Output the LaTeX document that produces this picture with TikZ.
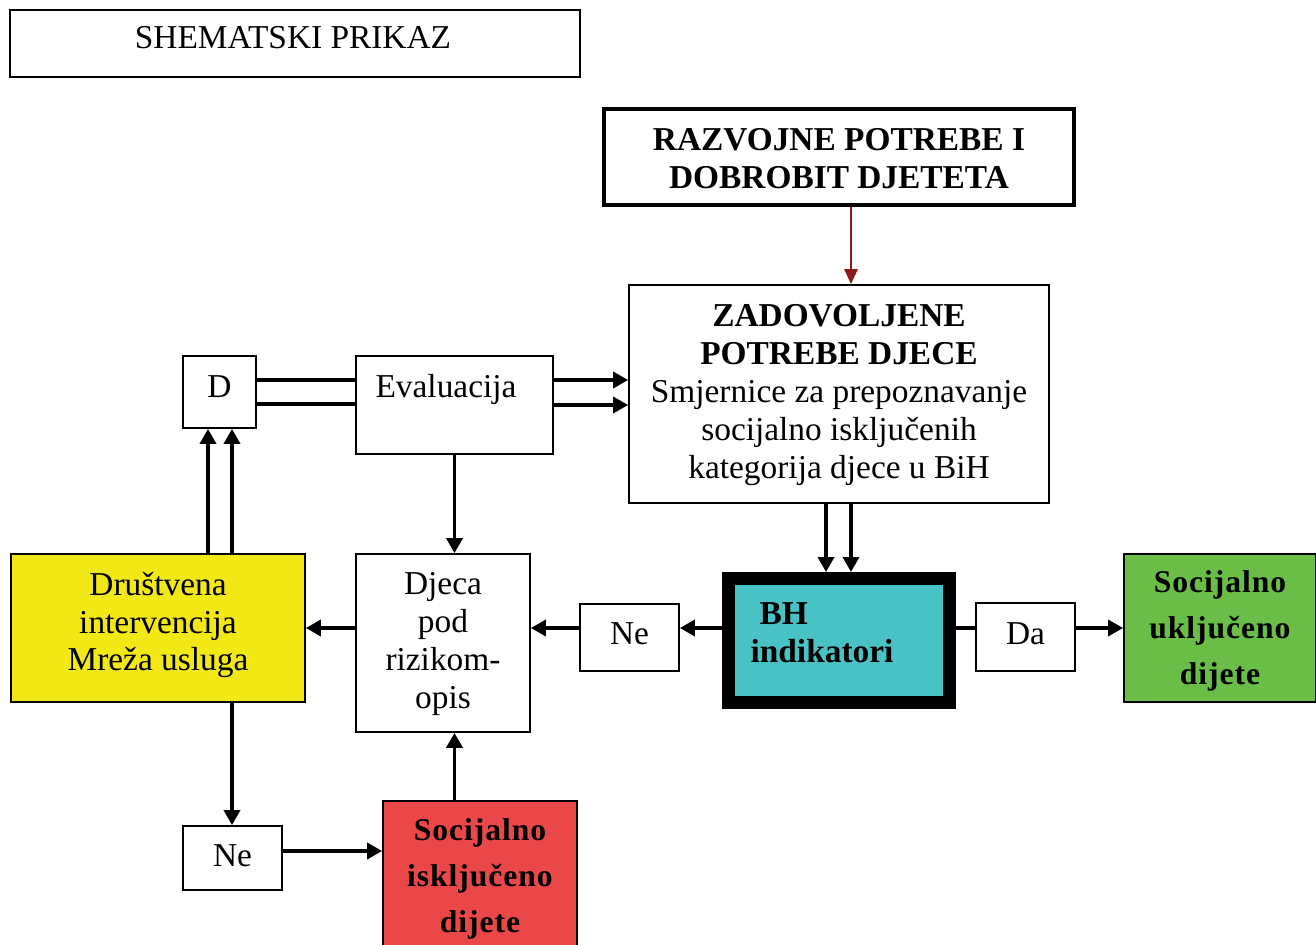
\documentclass[tikz,border=0pt]{standalone}
\usepackage{fontspec}
\setmainfont{Liberation Serif}
\usetikzlibrary{arrows.meta}
\definecolor{zuta}{RGB}{242,232,22}
\definecolor{tirkiz}{RGB}{72,194,196}
\definecolor{zelena}{RGB}{106,189,70}
\definecolor{crvena}{RGB}{234,72,72}
\definecolor{tamnocrvena}{RGB}{140,24,24}
\tikzset{
  box/.style={draw, line width=1pt, inner sep=0pt},
  txt/.style={font=\fontsize{19}{21.6}\selectfont, align=center, inner sep=0pt},
  bold/.style={font=\fontsize{19}{21.6}\selectfont\bfseries, align=center, inner sep=0pt},
  boldwide/.style={font=\fontsize{18}{26}\selectfont\bfseries\addfontfeatures{LetterSpace=3}, align=center, inner sep=0pt},
  arr/.style={line width=2pt, -{Triangle[length=0.3cm, width=0.32cm]}},
  link/.style={line width=2pt}
}
\begin{document}
\begin{tikzpicture}[x=0.02cm, y=-0.02cm]
      \useasboundingbox (0,0) rectangle (1316,944);
      % boxes
      \node[box, minimum width=11.4cm, minimum height=1.34cm] (title) at (295,43.5) {};
      \node[box, line width=2.3pt, minimum width=9.4cm, minimum height=1.92cm] (razvoj) at (839,157) {};
      \node[box, minimum width=8.4cm, minimum height=4.36cm] (zad) at (839,394) {};
      \node[box, minimum width=1.46cm, minimum height=1.44cm] (d) at (219.5,392) {};
      \node[box, minimum width=3.94cm, minimum height=1.96cm] (eval) at (454.5,405) {};
      \node[box, fill=zuta, minimum width=5.88cm, minimum height=2.96cm] (drus) at (158,628) {};
      \node[box, minimum width=3.48cm, minimum height=3.56cm] (djeca) at (443,643) {};
      \node[box, minimum width=1.98cm, minimum height=1.34cm] (ne1) at (629.5,637.5) {};
      \node[box, fill=tirkiz, line width=7.4pt, minimum width=4.42cm, minimum height=2.48cm] (bh) at (839,640.5) {};
      \node[box, minimum width=1.98cm, minimum height=1.36cm] (da) at (1025.5,637) {};
      \node[box, fill=zelena, minimum width=3.84cm, minimum height=2.96cm] (ukl) at (1220,628) {};
      \node[box, minimum width=1.98cm, minimum height=1.28cm] (ne2) at (232.5,858) {};
      \node[box, fill=crvena, minimum width=3.88cm, minimum height=3.18cm] (isk) at (480,880.5) {};
      % texts
      \node[txt] (title-t) at (293,38) {SHEMATSKI PRIKAZ};
      \node[bold] (razvoj-t) at (839,159) {RAZVOJNE POTREBE I\\DOBROBIT DJETETA};
      \node[txt, anchor=north] (zad-t) at (839,304) {\textbf{ZADOVOLJENE}\\\textbf{POTREBE DJECE}\\Smjernice za prepoznavanje\\socijalno isključenih\\kategorija djece u BiH};
      \node[txt] (d-t) at (219.5,387) {D};
      \node[txt] (eval-t) at (446,389) {Evaluacija};
      \node[txt] (drus-t) at (158,625) {Društvena\\intervencija\\Mreža usluga};
      \node[txt] (djeca-t) at (443,644) {Djeca\\pod\\rizikom-\\opis};
      \node[txt] (ne1-t) at (629.5,634) {Ne};
      \node[bold, align=left] (bh-t) at (822,633) {\hspace*{0.18cm}BH\\indikatori};
      \node[txt] (da-t) at (1025.5,634) {Da};
      \node[boldwide] (ukl-t) at (1220,631) {Socijalno\\uključeno\\dijete};
      \node[txt] (ne2-t) at (232.5,856) {Ne};
      \node[boldwide] (isk-t) at (480,879) {Socijalno\\isključeno\\dijete};
      % connectors
      \coordinate (d1) at ([xshift=-0.23cm]d.south);
      \coordinate (d2) at ([xshift=0.25cm]d.south);
      \coordinate (d3) at ([yshift=0.24cm]d.east);
      \coordinate (d4) at ([yshift=-0.24cm]d.east);
      \coordinate (e1) at ([yshift=0.5cm]eval.east);
      \coordinate (e2) at (eval.east);
      \coordinate (z1) at ([xshift=-0.26cm]zad.south);
      \coordinate (z2) at ([xshift=0.24cm]zad.south);
      \coordinate (r1) at ([xshift=0.24cm]razvoj.south);
      \begin{scope}
        \draw[line width=1.5pt, tamnocrvena, -{Triangle[length=0.3cm, width=0.26cm]}] (r1) to (r1 |- zad.north);
        \draw[link] (d3) to (d3 -| eval.west);
        \draw[link] (d4) to (d4 -| eval.west);
        \draw[arr] (e1) to (e1 -| zad.west);
        \draw[arr] (e2) to (e2 -| zad.west);
        \draw[arr] (d1 |- drus.north) to (d1);
        \draw[arr] (d2 |- drus.north) to (d2);
        \draw[arr] (eval.south) to (eval.south |- djeca.north);
        \draw[arr] (z1) to (z1 |- bh.north);
        \draw[arr] (z2) to (z2 |- bh.north);
        \draw[arr] (bh.west |- drus.east) to (ne1.east |- drus.east);
        \draw[arr] (ne1.west |- drus.east) to (djeca.east |- drus.east);
        \draw[arr] (djeca.west |- drus.east) to (drus.east);
        \draw[link] (bh.east |- ukl.west) to (da.west |- ukl.west);
        \draw[arr] (da.east |- ukl.west) to (ukl.west);
        \draw[arr] (d2 |- drus.south) to (d2 |- ne2.north);
        \draw[arr] ([yshift=0.14cm]ne2.east) coordinate (n1) to (n1 -| isk.west);
        \draw[arr] (isk.north -| eval.south) to (djeca.south -| eval.south);
      \end{scope}
    \end{tikzpicture}
\end{document}
